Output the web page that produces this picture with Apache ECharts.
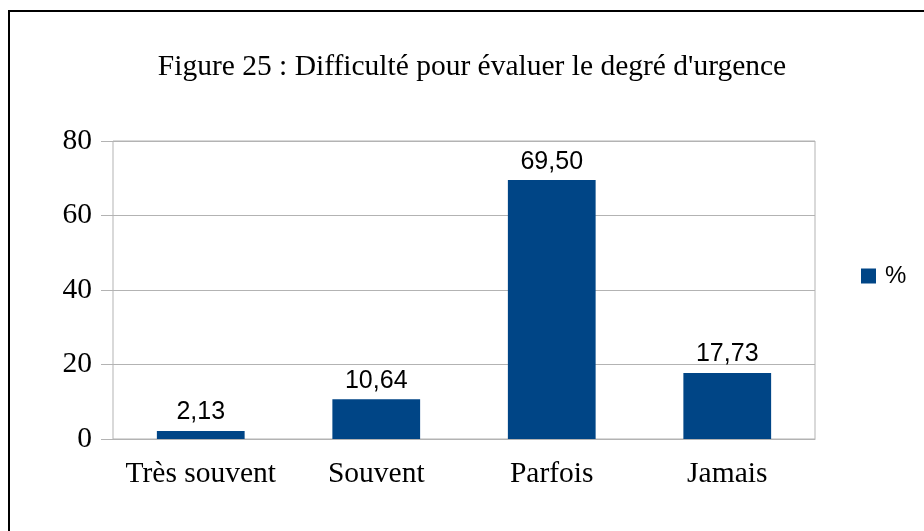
<!DOCTYPE html>
<html>
<head>
<meta charset="utf-8">
<script src="https://cdn.jsdelivr.net/npm/echarts@6/dist/echarts.min.js"></script>
<style>
  html, body { margin: 0; padding: 0; background: #fff; }
  #chart { width: 924px; height: 531px; }
</style>
</head>
<body>
<div id="chart"></div>
<script>
const categories = ['Très souvent', 'Souvent', 'Parfois', 'Jamais'];
const percentValues = [2.13, 10.64, 69.50, 17.73];
const yTicks = { min: 0, max: 80, interval: 20 };

const serif = '"Liberation Serif", "DejaVu Serif", serif';
const sans = '"Liberation Sans", Arial, sans-serif';
const gridColor = '#b3b3b3';

const chart = echarts.init(document.getElementById('chart'), null, { renderer: 'canvas' });

chart.setOption({
  animation: false,
  title: {
    text: 'Figure 25 : Difficulté pour évaluer le degré d\'urgence',
    left: 467,
    top: 47,
    textAlign: 'center',
    textStyle: { fontFamily: serif, fontSize: 29.5, fontWeight: 'normal', color: '#000' }
  },
  legend: {
    data: ['%'],
    left: 856,
    top: 259,
    icon: 'rect',
    itemWidth: 15,
    itemHeight: 15,
    textStyle: { fontFamily: sans, fontSize: 24, color: '#000', padding: [0, 0, 0, 4] }
  },
  grid: {
    left: 113,
    right: 109,
    top: 141,
    bottom: 92,
    show: true,
    borderColor: gridColor,
    borderWidth: 1
  },
  xAxis: {
    type: 'category',
    data: categories,
    axisLine: { lineStyle: { color: gridColor } },
    axisTick: { length: 11, lineStyle: { color: gridColor } },
    axisLabel: { fontFamily: serif, fontSize: 29.5, color: '#000', margin: 20, interval: 0 }
  },
  yAxis: {
    type: 'value',
    min: yTicks.min,
    max: yTicks.max,
    interval: yTicks.interval,
    axisLine: { show: false },
    axisTick: { show: true, length: 12, lineStyle: { color: gridColor } },
    splitLine: { lineStyle: { color: gridColor } },
    axisLabel: { fontFamily: serif, fontSize: 29.5, color: '#000', margin: 21 }
  },
  series: [{
    name: '%',
    type: 'bar',
    data: percentValues,
    barCategoryGap: '50%',
    itemStyle: { color: '#004586' },
    label: {
      show: true,
      position: 'top',
      distance: 6,
      fontFamily: sans,
      fontSize: 25,
      color: '#000',
      formatter: p => p.value.toFixed(2).replace('.', ',')
    }
  }],
  graphic: [
    { type: 'line', shape: { x1: 8, y1: 11, x2: 924, y2: 11 }, style: { stroke: '#000', lineWidth: 2 } },
    { type: 'line', shape: { x1: 9, y1: 10, x2: 9, y2: 531 }, style: { stroke: '#000', lineWidth: 2 } }
  ]
});
</script>
</body>
</html>
